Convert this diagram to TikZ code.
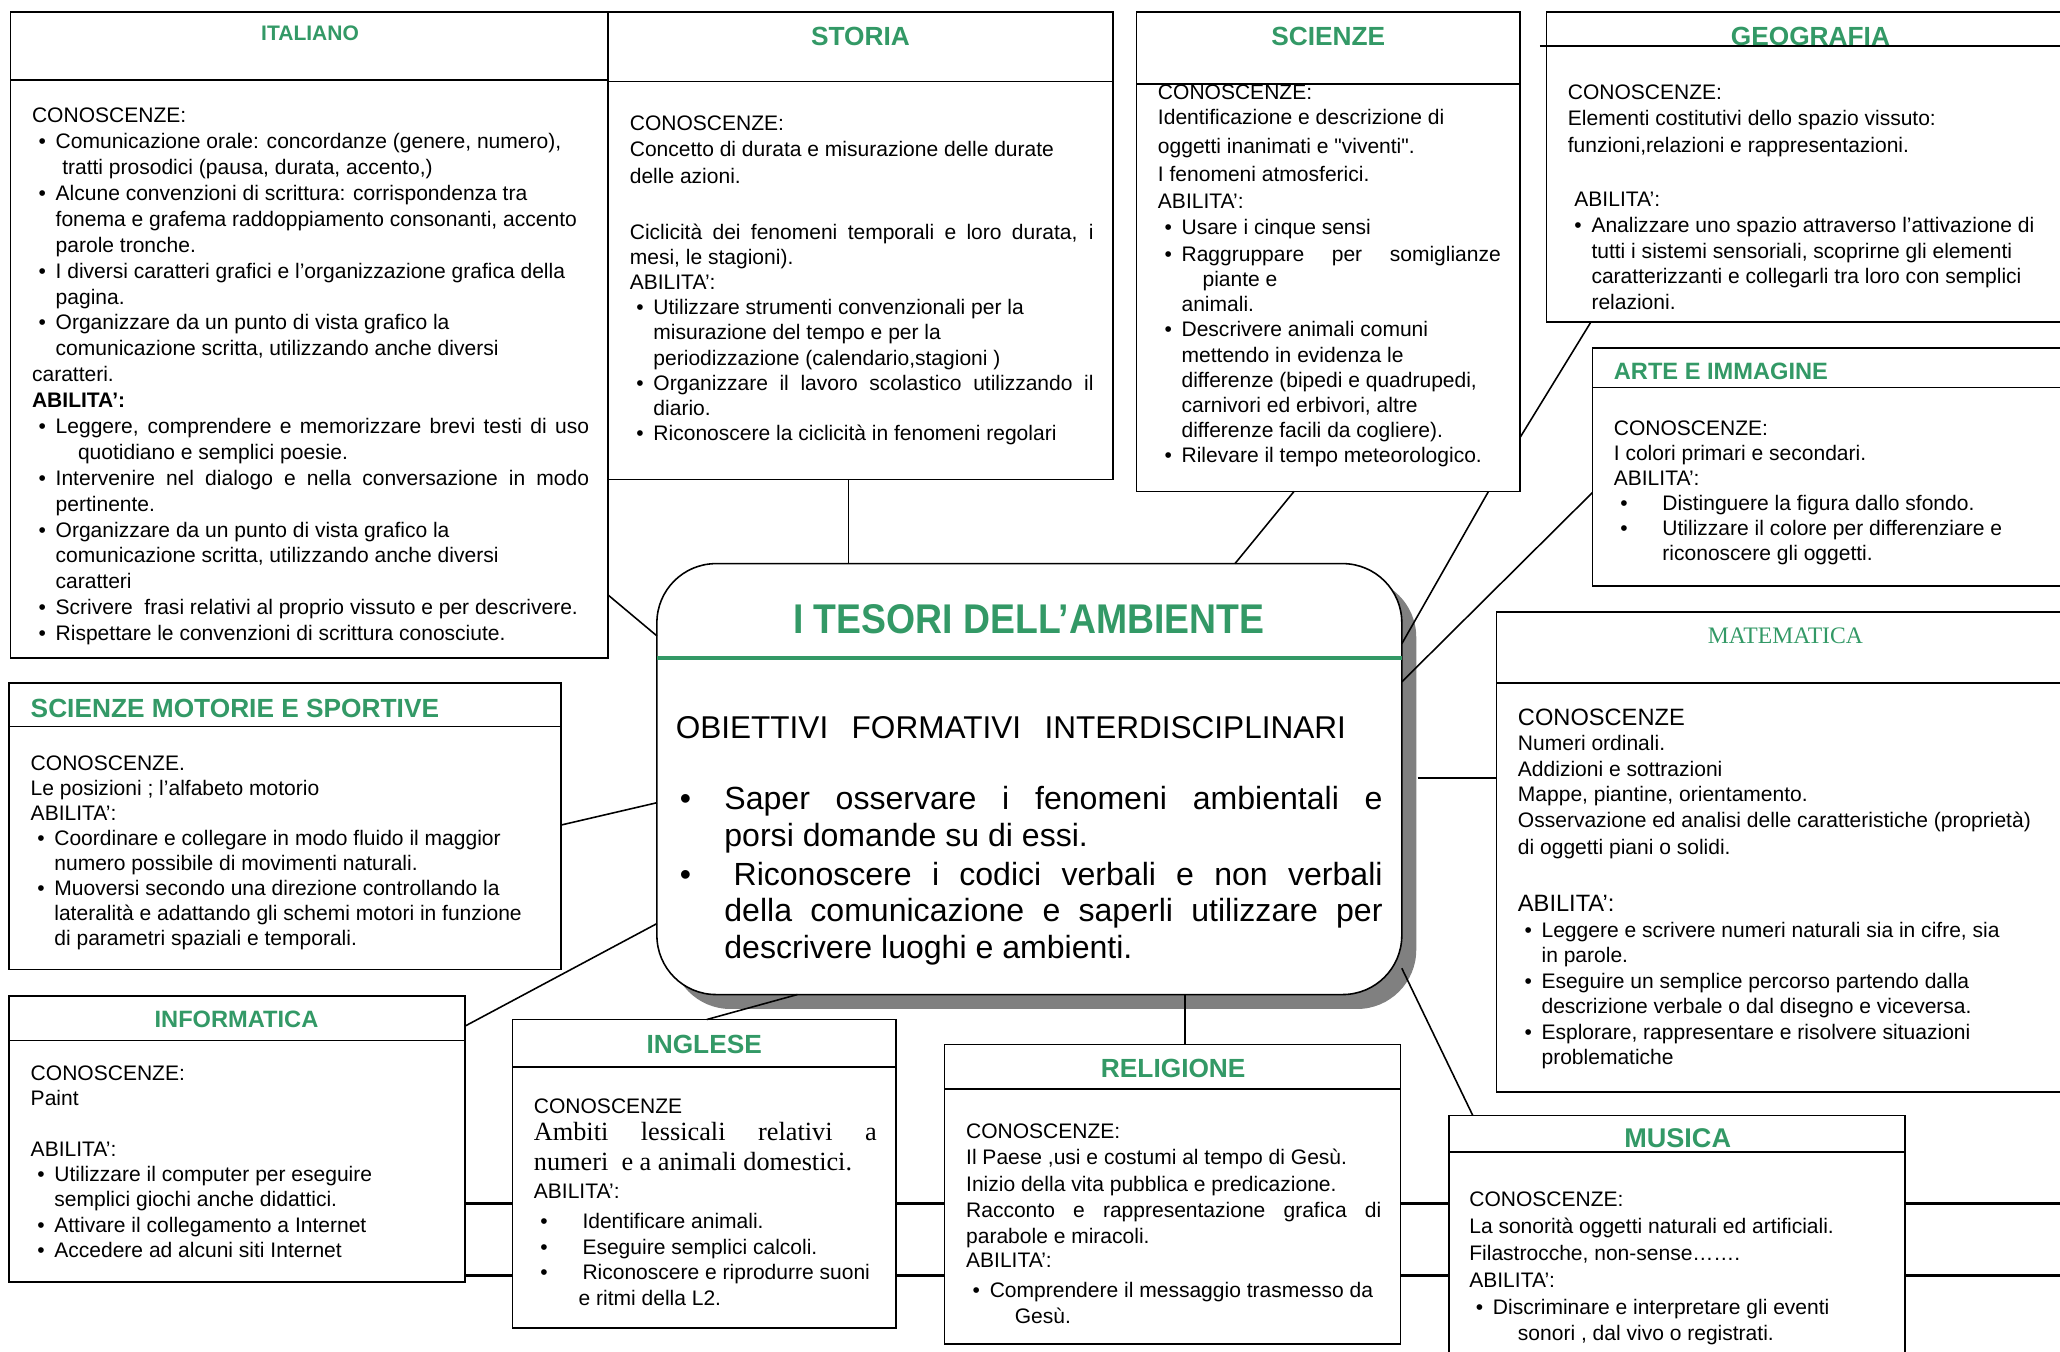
\documentclass[tikz,border=0pt]{standalone}
\usepackage{fontspec}
\setmainfont{Liberation Sans}
\newfontfamily\timesfont{Liberation Serif}
\newfontfamily\narrowfont[FakeStretch=0.9]{Liberation Sans}
\newfontfamily\quotefont[Ligatures=TeXOff]{Liberation Sans}
\usetikzlibrary{positioning,calc,shadows}

\definecolor{subjgreen}{HTML}{339966}

% bullets and indents for the lists
\newcommand{\bl}{\hspace*{2.5pt}\makebox[6.5pt][l]{\textbullet}}
\newcommand{\cl}{\hspace*{9pt}}
\newcommand{\wbl}{\hspace*{2.5pt}\makebox[16pt][l]{\textbullet}}
\newcommand{\jl}[2]{\makebox[#1][s]{#2}}
\newcommand{\sq}{{\quotefont\symbol{34}}}

\tikzset{
  subjbox/.style={draw, line width=0.6pt, inner sep=0pt, outer sep=0pt, anchor=north west},
  boxsize/.style 2 args={minimum width=#1*0.5pt, minimum height=#2*0.5pt},
  subjtitle/.style={text=subjgreen, inner sep=0pt, font=\bfseries\fontsize{#1}{12}\selectfont},
  subjtitle/.default=10,
  bodytext/.style={anchor=north west, inner sep=0pt, align=left, font=\fontsize{8}{#1}\selectfont},
  bodytext/.default=9.7,
  link/.style={line width=0.6pt},
  rule/.style={line width=1.3pt}
}

\begin{document}
\begin{tikzpicture}[x=0.5pt,y=-0.5pt]
\useasboundingbox (0,0) rectangle (1568,1029);
\clip (0,0) rectangle (1568,1029);
\coordinate (pageright) at (1568,0);

% centre
\node[subjbox, boxsize={567}{328}, rounded corners=22.5pt, fill=white,
  drop shadow={shadow xshift=5.5pt, shadow yshift=-5.5pt, fill=black!50, opacity=1}] (ctr) at (500,429) {};
\draw[line width=1.7pt, subjgreen] (ctr.west |- 0,501) -- (ctr.east |- 0,501);
\node[text=subjgreen, inner sep=0pt, font=\narrowfont\bfseries\fontsize{15.8}{18}\selectfont] (ctrtitle) at (783,471) {I TESORI DELL’AMBIENTE};
\node[anchor=west, inner sep=0pt, font=\fontsize{12}{14}\selectfont] (ctrhead) at (514,554) {\jl{255pt}{OBIETTIVI FORMATIVI INTERDISCIPLINARI}};
\node[bodytext, font=\fontsize{12.2}{14}\selectfont] (ctrbody) at (517,598) {%
\makebox[17pt][l]{\textbullet}\jl{250.5pt}{Saper osservare i fenomeni ambientali e}\\
\hspace*{17pt}porsi domande su di essi.\\[0.8pt]
\makebox[17pt][l]{\textbullet}\hspace*{3.5pt}\jl{247pt}{Riconoscere i codici verbali e non verbali}\\
\hspace*{17pt}\jl{250.5pt}{della comunicazione e saperli utilizzare per}\\
\hspace*{17pt}descrivere luoghi e ambienti.};

% ITALIANO
\node[subjbox, boxsize={455}{492}] (ita) at (8,9) {};
\draw[link] (ita.west |- 0,61) -- (ita.east |- 0,61);
\node[subjtitle=8] (itatitle) at (236,25) {ITALIANO};
\node[bodytext=9.85] (itabody) at (24,82) {CONOSCENZE:\\
\bl Comunicazione orale: concordanze (genere, numero),\\
\hspace*{11.5pt}tratti prosodici (pausa, durata, accento,)\\
\bl Alcune convenzioni di scrittura: corrispondenza tra\\
\cl fonema e grafema raddoppiamento consonanti, accento\\
\cl parole tronche.\\
\bl I diversi caratteri grafici e l’organizzazione grafica della\\
\cl pagina.\\
\bl Organizzare da un punto di vista grafico la\\
\cl comunicazione scritta, utilizzando anche diversi\\
caratteri.\\
\textbf{ABILITA’:}\\
\bl \jl{203pt}{Leggere, comprendere e memorizzare brevi testi di uso}\\
\hspace*{17.5pt}quotidiano e semplici poesie.\\
\bl \jl{203pt}{Intervenire nel dialogo e nella conversazione in modo}\\
\cl pertinente.\\
\bl Organizzare da un punto di vista grafico la\\
\cl comunicazione scritta, utilizzando anche diversi\\
\cl caratteri\\
\bl Scrivere\ \ frasi relativi al proprio vissuto e per descrivere.\\
\bl Rispettare le convenzioni di scrittura conosciute.};

% STORIA
\node[subjbox, boxsize={384}{356}] (sto) at (463,9) {};
\draw[link] (sto.west |- 0,62) -- (sto.east |- 0,62);
\node[subjtitle] (stotitle) at (655,28) {STORIA};
\node[bodytext=9.6] (stobody) at (479,88) {CONOSCENZE:\\
Concetto di durata e misurazione delle durate\\[1pt]
delle azioni.\\[11.4pt]
\jl{176.5pt}{Ciclicità dei fenomeni temporali e loro durata, i}\\
mesi, le stagioni).\\
ABILITA’:\\
\bl Utilizzare strumenti convenzionali per la\\
\cl misurazione del tempo e per la\\
\cl periodizzazione (calendario,stagioni )\\
\bl \jl{167.5pt}{Organizzare il lavoro scolastico utilizzando il}\\
\cl diario.\\
\bl Riconoscere la ciclicità in fenomeni regolari};

% SCIENZE
\node[subjbox, boxsize={292}{365}] (sci) at (865,9) {};
\node[subjtitle] (scititle) at (1011,28) {SCIENZE};
\node[bodytext=9.6] (scibody) at (881,64) {CONOSCENZE:\\
Identificazione e descrizione di\\[1.4pt]
oggetti inanimati e \sq viventi\sq.\\[0.9pt]
I fenomeni atmosferici.\\[0.9pt]
ABILITA’:\\[0.4pt]
\bl Usare i cinque sensi\\[0.4pt]
\bl \jl{121.5pt}{Raggruppare per somiglianze}\\
\hspace*{17pt}piante e\\
\cl animali.\\
\bl Descrivere animali comuni\\
\cl mettendo in evidenza le\\
\cl differenze (bipedi e quadrupedi,\\
\cl carnivori ed erbivori, altre\\
\cl differenze facili da cogliere).\\
\bl Rilevare il tempo meteorologico.};
\fill[white] (866,58) rectangle (1156,64);
\draw[link] (sci.west |- 0,64) -- (sci.east |- 0,64);

% GEOGRAFIA
\node[subjbox, boxsize={430}{236}] (geo) at (1177,9) {};
\begin{scope}
\clip (1177,9) rectangle (1568,35);
\node[subjtitle] (geotitle) at (1378,28) {GEOGRAFIA};
\end{scope}
\draw[link] (1172,35) -- (geo.east |- 0,35);
\node[bodytext=9.9] (geobody) at (1193,64) {CONOSCENZE:\\
Elementi costitutivi dello spazio vissuto:\\[0.6pt]
funzioni,relazioni e rappresentazioni.\\[10.6pt]
\hspace*{2.5pt}ABILITA’:\\
\bl Analizzare uno spazio attraverso l’attivazione di\\[-0.2pt]
\cl tutti i sistemi sensoriali, scoprirne gli elementi\\[-0.2pt]
\cl caratterizzanti e collegarli tra loro con semplici\\[-0.2pt]
\cl relazioni.};

% ARTE E IMMAGINE
\node[subjbox, boxsize={400}{181}] (arte) at (1212,265) {};
\draw[link] (arte.west |- 0,295) -- (arte.east |- 0,295);
\node[subjtitle=9, anchor=west] (artetitle) at (1228,283) {ARTE E IMMAGINE};
\node[bodytext=9.5] (artebody) at (1228,320) {CONOSCENZE:\\
I colori primari e secondari.\\
ABILITA’:\\
\wbl Distinguere la figura dallo sfondo.\\
\wbl Utilizzare il colore per differenziare e\\
\hspace*{18.5pt}riconoscere gli oggetti.};

% MATEMATICA
\node[subjbox, boxsize={470}{365}] (mat) at (1139,466) {};
\draw[link] (mat.west |- 0,520) -- (mat.east |- 0,520);
\node[text=subjgreen, inner sep=0pt, font=\timesfont\fontsize{9}{11}\selectfont] (mattitle) at (1359,484) {MATEMATICA};
\node[bodytext=9.7] (matbody) at (1155,539) {{\fontsize{9}{9.7}\selectfont CONOSCENZE}\\
Numeri ordinali.\\
Addizioni e sottrazioni\\
Mappe, piantine, orientamento.\\
Osservazione ed analisi delle caratteristiche (proprietà)\\[0.8pt]
di oggetti piani o solidi.\\[12pt]
{\fontsize{9}{9.7}\selectfont ABILITA’:}\\
\bl Leggere e scrivere numeri naturali sia in cifre, sia\\
\cl in parole.\\
\bl Eseguire un semplice percorso partendo dalla\\
\cl descrizione verbale o dal disegno e viceversa.\\
\bl Esplorare, rappresentare e risolvere situazioni\\
\cl problematiche};

% SCIENZE MOTORIE E SPORTIVE
\node[subjbox, boxsize={420}{218}] (mot) at (7,520) {};
\draw[link] (mot.west |- 0,553) -- (mot.east |- 0,553);
\node[subjtitle, anchor=west] (mottitle) at (23,539) {SCIENZE MOTORIE E SPORTIVE};
\node[bodytext=9.5] (motbody) at (23,575) {CONOSCENZE.\\
Le posizioni ; l’alfabeto motorio\\
ABILITA’:\\
\bl Coordinare e collegare in modo fluido il maggior\\
\cl numero possibile di movimenti naturali.\\
\bl Muoversi secondo una direzione controllando la\\
\cl lateralità e adattando gli schemi motori in funzione\\
\cl di parametri spaziali e temporali.};

% INFORMATICA
\node[subjbox, boxsize={347}{218}] (inf) at (7,758) {};
\draw[link] (inf.west |- 0,792) -- (inf.east |- 0,792);
\node[subjtitle=9] (inftitle) at (180,776) {INFORMATICA};
\node[bodytext=9.6] (infbody) at (23,811) {CONOSCENZE:\\
Paint\\[9.6pt]
ABILITA’:\\
\bl Utilizzare il computer per eseguire\\
\cl semplici giochi anche didattici.\\
\bl Attivare il collegamento a Internet\\
\bl Accedere ad alcuni siti Internet};

% INGLESE
\node[subjbox, boxsize={292}{235}] (ing) at (390,776) {};
\draw[link] (ing.west |- 0,812) -- (ing.east |- 0,812);
\node[subjtitle] (ingtitle) at (536,795) {INGLESE};
\node[bodytext=9.8] (ingbody) at (406,836) {CONOSCENZE\\[0.6pt]
{\timesfont\fontsize{10}{9.8}\selectfont \jl{130.5pt}{Ambiti lessicali relativi a}}\\[1.4pt]
{\timesfont\fontsize{10}{9.8}\selectfont numeri\ \ e a animali domestici.}\\[1pt]
ABILITA’:\\[1.5pt]
\wbl Identificare animali.\\
\wbl Eseguire semplici calcoli.\\
\wbl Riconoscere e riprodurre suoni\\
\hspace*{17pt}e ritmi della L2.};

% RELIGIONE
\node[subjbox, boxsize={347}{228}] (rel) at (719,795) {};
\draw[link] (rel.west |- 0,829) -- (rel.east |- 0,829);
\node[subjtitle] (reltitle) at (893,813) {RELIGIONE};
\node[bodytext=10] (relbody) at (735,855) {CONOSCENZE:\\
Il Paese ,usi e costumi al tempo di Gesù.\\
Inizio della vita pubblica e predicazione.\\
\jl{158pt}{Racconto e rappresentazione grafica di}\\
parabole e miracoli.\\[-1pt]
ABILITA’:\\[1.5pt]
\bl Comprendere il messaggio trasmesso da\\
\hspace*{18.5pt}Gesù.};

% MUSICA
\node[subjbox, boxsize={347}{230}] (mus) at (1103,849) {};
\draw[link] (mus.west |- 0,877) -- (mus.east |- 0,877);
\node[subjtitle=10.3] (mustitle) at (1277,866) {MUSICA};
\node[bodytext=10.2] (musbody) at (1118,907) {CONOSCENZE:\\
La sonorità oggetti naturali ed artificiali.\\
Filastrocche, non-sense…….\\
ABILITA’:\\
\bl Discriminare e interpretare gli eventi\\
\hspace*{18.5pt}sonori , dal vivo o registrati.};

% links to the centre
\draw[link] (ita.east |- 0,453) -- (ctr.west |- 0,484);
\draw[link] (sto.south -| 646,0) -- (ctr.north -| 646,0);
\draw[link] (sci.south -| 985,0) -- (ctr.north -| 940,0);
\draw[link] (sci.south -| 1133,0) -- (ctr.east |- 0,490);
\draw[link] (geo.south -| 1211,0) -- (sci.east |- 0,333);
\draw[link] (arte.west |- 0,375) -- (ctr.east |- 0,519);
\draw[link] ($(ctr.east |- 0,592)+(12,0)$) -- (mat.west |- 0,592);
\draw[link] (ctr.east |- 0,737) -- (mus.north -| 1121,0);
\draw[link] (ctr.south -| 902,0) -- (rel.north -| 902,0);
\draw[link] (ctr.south -| 607,0) -- (ing.north -| 538,0);
\draw[link] (inf.east |- 0,781) -- (ctr.west |- 0,703);
\draw[link] (mot.east |- 0,628) -- (ctr.west |- 0,611);

% table rules at the bottom
\foreach \ry in {916,971} {
  \draw[rule] (inf.east |- 0,\ry) -- (ing.west |- 0,\ry);
  \draw[rule] (ing.east |- 0,\ry) -- (rel.west |- 0,\ry);
  \draw[rule] (rel.east |- 0,\ry) -- (mus.west |- 0,\ry);
  \draw[rule] (mus.east |- 0,\ry) -- (pageright |- 0,\ry);
}
\end{tikzpicture}
\end{document}
